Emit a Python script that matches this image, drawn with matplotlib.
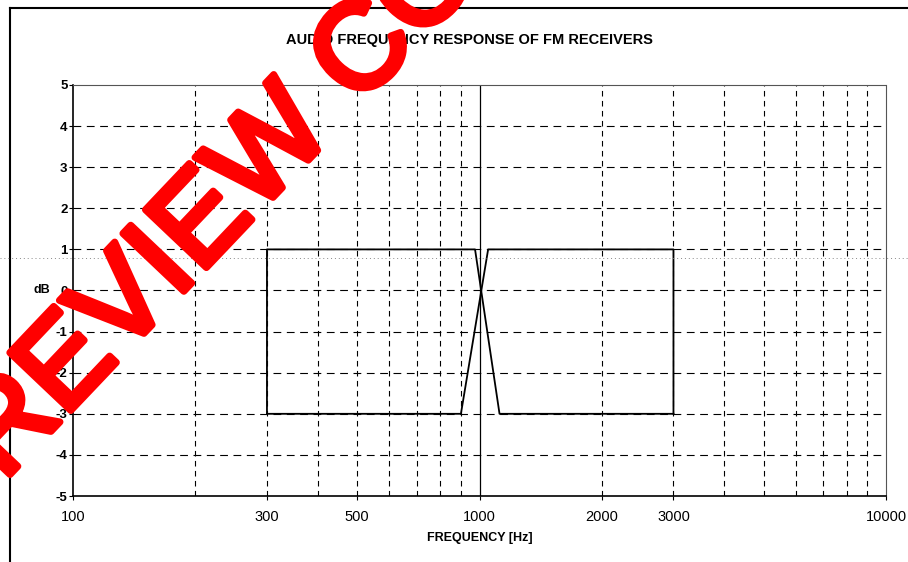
import matplotlib
matplotlib.use("Agg")
import matplotlib.pyplot as plt
import matplotlib.patheffects as pe
from matplotlib.lines import Line2D

plt.rcParams['font.family'] = ['Liberation Sans', 'DejaVu Sans']
plt.rcParams['axes.unicode_minus'] = False

# mask lines (frequency in Hz, level in dB)
upper_freq = [300, 300, 975, 1120, 3000]
upper_db = [-3, 1, 1, -3, -3]
lower_freq = [300, 900, 1050, 3000, 3000]
lower_db = [-3, -3, 1, 1, -3]

xticks = [100, 300, 500, 1000, 2000, 3000, 10000]
xtick_labels = ['100', '300', '500', '1000', '2000', '3000', '10000']
yticks = [5, 4, 3, 2, 1, 0, -1, -2, -3, -4, -5]
grid_freqs = [200, 300, 400, 500, 600, 700, 800, 900,
              2000, 3000, 4000, 5000, 6000, 7000, 8000, 9000]

fig = plt.figure(figsize=(9.08, 5.62), dpi=100)
ax = fig.add_axes([0.0804, 0.1174, 0.8954, 0.7314])
ax.set_xscale('log')
ax.set_xlim(100, 10000)
ax.set_ylim(-5, 5)

# grid
for y in yticks[1:-1]:
    ax.axhline(y, color='black', lw=0.8, ls=(0, (7, 5)), zorder=1)
for f in grid_freqs:
    ax.axvline(f, color='black', lw=0.8, ls=(0, (5, 4)), zorder=1)
ax.axvline(1000, color='black', lw=0.9, zorder=2)

ax.plot(upper_freq, upper_db, color='black', lw=1.3, zorder=3)
ax.plot(lower_freq, lower_db, color='black', lw=1.3, zorder=3)

ax.set_xticks(xticks)
ax.set_xticklabels(xtick_labels)
ax.xaxis.set_minor_locator(matplotlib.ticker.NullLocator())
ax.set_yticks(yticks)
ax.set_yticklabels([str(v) for v in yticks])
ax.tick_params(axis='y', labelsize=9.5, length=3, width=0.8, pad=1)
ax.tick_params(axis='x', labelsize=10.5, length=3, width=0.8, pad=7)
for lab in ax.get_yticklabels():
    lab.set_fontweight('bold')

for s in ['left', 'bottom']:
    ax.spines[s].set_linewidth(1.2)
for s in ['top', 'right']:
    ax.spines[s].set_linestyle((0, (2, 1)))
    ax.spines[s].set_linewidth(0.8)
    ax.spines[s].set_color('#555555')

ax.set_xlabel('FREQUENCY [Hz]', fontsize=9, fontweight='bold', labelpad=6)
ax.text(-0.028, 0.5, 'dB', transform=ax.transAxes, ha='right', va='center',
        fontsize=9, fontweight='bold')
fig.text(0.517, 0.929, 'AUDIO FREQUENCY RESPONSE OF FM RECEIVERS',
         ha='center', va='center', fontsize=10.5, fontweight='bold')

# page frame of the scanned sheet
fig.add_artist(Line2D([10 / 908, 10 / 908], [0, 1 - 8 / 562], color='black', lw=1.5))
fig.add_artist(Line2D([10 / 908, 1], [1 - 8 / 562, 1 - 8 / 562], color='black', lw=1.5))
fig.add_artist(Line2D([0, 1], [1 - 258 / 562, 1 - 258 / 562], color='#888888',
                      lw=0.7, ls=(0, (1, 3))))

# watermark
fig.text(0.274, 0.686, 'PREVIEW COPY', color='#ff0000', fontsize=88,
         rotation=46.5, rotation_mode='anchor', ha='center', va='center', zorder=10,
         path_effects=[pe.withStroke(linewidth=5, foreground='#ff0000')])

fig.savefig('out.png', dpi=100)
